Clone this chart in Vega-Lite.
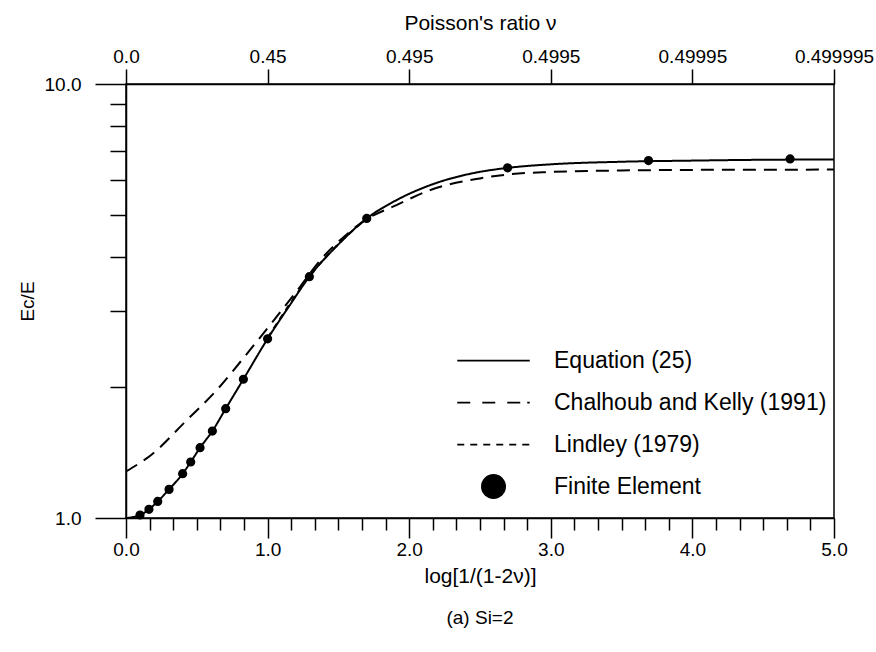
{
  "$schema": "https://vega.github.io/schema/vega-lite/v6.json",
  "width": 708,
  "height": 434,
  "autosize": "none",
  "padding": {"left": 126, "top": 84, "right": 42, "bottom": 134},
  "background": "white",
  "config": {
    "font": "Liberation Sans",
    "view": {"stroke": "black", "strokeWidth": 1.5},
    "axis": {
      "domainColor": "black", "tickColor": "black", "labelColor": "black", "titleColor": "black",
      "domainWidth": 1.5, "tickWidth": 1.5, "labelFontSize": 19, "titleFontSize": 21,
      "titleFontWeight": "normal", "grid": false, "labelFlush": false, "labelOverlap": false, "labelBound": false
    },
    "legend": {
      "title": null,
      "orient": "none",
      "legendX": 331,
      "legendY": 264,
      "padding": 0,
      "symbolSize": 625,
      "symbolOffset": 24,
      "symbolStrokeWidth": 0,
      "symbolFillColor": "black",
      "labelFontSize": 23,
      "labelColor": "black",
      "labelOffset": 48,
      "labelLimit": 400,
      "rowPadding": 17
    }
  },
  "title": {"text": "(a) Si=2", "orient": "bottom", "fontSize": 19, "fontWeight": "normal", "offset": 23, "color": "black"},
  "datasets": {
    "curves": [
      {"series": "Equation (25)", "x": 0, "y": 1.0},
      {"series": "Equation (25)", "x": 0.1, "y": 1.016},
      {"series": "Equation (25)", "x": 0.162, "y": 1.047},
      {"series": "Equation (25)", "x": 0.224, "y": 1.092},
      {"series": "Equation (25)", "x": 0.304, "y": 1.164},
      {"series": "Equation (25)", "x": 0.4, "y": 1.265},
      {"series": "Equation (25)", "x": 0.457, "y": 1.346},
      {"series": "Equation (25)", "x": 0.523, "y": 1.452},
      {"series": "Equation (25)", "x": 0.61, "y": 1.586},
      {"series": "Equation (25)", "x": 0.704, "y": 1.786},
      {"series": "Equation (25)", "x": 0.829, "y": 2.088},
      {"series": "Equation (25)", "x": 1.0, "y": 2.588},
      {"series": "Equation (25)", "x": 1.15, "y": 3.07},
      {"series": "Equation (25)", "x": 1.295, "y": 3.597},
      {"series": "Equation (25)", "x": 1.5, "y": 4.27},
      {"series": "Equation (25)", "x": 1.7, "y": 4.9},
      {"series": "Equation (25)", "x": 1.91, "y": 5.4},
      {"series": "Equation (25)", "x": 2.15, "y": 5.85},
      {"series": "Equation (25)", "x": 2.45, "y": 6.23},
      {"series": "Equation (25)", "x": 2.7, "y": 6.41},
      {"series": "Equation (25)", "x": 3.0, "y": 6.53},
      {"series": "Equation (25)", "x": 3.5, "y": 6.62},
      {"series": "Equation (25)", "x": 4.0, "y": 6.66},
      {"series": "Equation (25)", "x": 4.5, "y": 6.69},
      {"series": "Equation (25)", "x": 5.0, "y": 6.7},
      {"series": "Chalhoub and Kelly (1991)", "x": 0, "y": 1.28},
      {"series": "Chalhoub and Kelly (1991)", "x": 0.193, "y": 1.41},
      {"series": "Chalhoub and Kelly (1991)", "x": 0.405, "y": 1.65},
      {"series": "Chalhoub and Kelly (1991)", "x": 0.64, "y": 1.97},
      {"series": "Chalhoub and Kelly (1991)", "x": 0.876, "y": 2.44},
      {"series": "Chalhoub and Kelly (1991)", "x": 1.064, "y": 2.91},
      {"series": "Chalhoub and Kelly (1991)", "x": 1.229, "y": 3.41},
      {"series": "Chalhoub and Kelly (1991)", "x": 1.37, "y": 3.92},
      {"series": "Chalhoub and Kelly (1991)", "x": 1.5, "y": 4.33},
      {"series": "Chalhoub and Kelly (1991)", "x": 1.7, "y": 4.88},
      {"series": "Chalhoub and Kelly (1991)", "x": 1.91, "y": 5.26},
      {"series": "Chalhoub and Kelly (1991)", "x": 2.15, "y": 5.7},
      {"series": "Chalhoub and Kelly (1991)", "x": 2.5, "y": 6.06},
      {"series": "Chalhoub and Kelly (1991)", "x": 2.7, "y": 6.19},
      {"series": "Chalhoub and Kelly (1991)", "x": 3.0, "y": 6.27},
      {"series": "Chalhoub and Kelly (1991)", "x": 3.5, "y": 6.32},
      {"series": "Chalhoub and Kelly (1991)", "x": 4.0, "y": 6.34},
      {"series": "Chalhoub and Kelly (1991)", "x": 5.0, "y": 6.35},
      {"series": "Lindley (1979)", "x": 1.0, "y": 2.6},
      {"series": "Lindley (1979)", "x": 1.15, "y": 3.09},
      {"series": "Lindley (1979)", "x": 1.3, "y": 3.62},
      {"series": "Lindley (1979)", "x": 1.5, "y": 4.28},
      {"series": "Lindley (1979)", "x": 1.7, "y": 4.9}
    ],
    "fe": [
      {"series": "Finite Element", "x": 0.099, "y": 1.016},
      {"series": "Finite Element", "x": 0.162, "y": 1.047},
      {"series": "Finite Element", "x": 0.224, "y": 1.092},
      {"series": "Finite Element", "x": 0.304, "y": 1.164},
      {"series": "Finite Element", "x": 0.4, "y": 1.265},
      {"series": "Finite Element", "x": 0.457, "y": 1.346},
      {"series": "Finite Element", "x": 0.523, "y": 1.452},
      {"series": "Finite Element", "x": 0.61, "y": 1.586},
      {"series": "Finite Element", "x": 0.704, "y": 1.786},
      {"series": "Finite Element", "x": 0.829, "y": 2.088},
      {"series": "Finite Element", "x": 1.0, "y": 2.588},
      {"series": "Finite Element", "x": 1.295, "y": 3.597},
      {"series": "Finite Element", "x": 1.7, "y": 4.9},
      {"series": "Finite Element", "x": 2.695, "y": 6.41},
      {"series": "Finite Element", "x": 3.69, "y": 6.66},
      {"series": "Finite Element", "x": 4.69, "y": 6.72}
    ]
  },
  "layer": [
    {
      "data": {"name": "curves"},
      "mark": {"type": "line", "color": "black", "strokeWidth": 2, "interpolate": "monotone"},
      "encoding": {
        "x": {
          "field": "x", "type": "quantitative",
          "scale": {"domain": [0, 5], "nice": false, "zero": false},
          "axis": {
            "orient": "bottom",
            "title": "log[1/(1-2ν)]",
            "values": [0, 0.1666667, 0.3333333, 0.5, 0.6666667, 0.8333333, 1, 1.1666667, 1.3333333, 1.5, 1.6666667, 1.8333333, 2, 2.1666667, 2.3333333, 2.5, 2.6666667, 2.8333333, 3, 3.1666667, 3.3333333, 3.5, 3.6666667, 3.8333333, 4, 4.1666667, 4.3333333, 4.5, 4.6666667, 4.8333333, 5],
            "labelExpr": "abs(datum.value - round(datum.value)) < 0.01 ? format(datum.value, '.1f') : ''",
            "tickSize": {"condition": {"test": "abs(datum.value - round(datum.value)) < 0.01", "value": 20}, "value": 12},
            "labelPadding": 2,
            "titlePadding": 6
          }
        },
        "y": {
          "field": "y", "type": "quantitative",
          "scale": {"type": "log", "domain": [1, 10], "nice": false},
          "axis": {
            "title": "Ec/E",
            "titleFontSize": 19,
            "values": [1, 2, 3, 4, 5, 6, 7, 8, 9, 10],
            "labelExpr": "datum.value == 1 ? '1.0' : datum.value == 10 ? '10.0' : ''",
            "tickSize": {"condition": {"test": "datum.value == 1 || datum.value == 10", "value": 31}, "value": 16},
            "labelPadding": 14,
            "titlePadding": 7
          }
        },
        "strokeDash": {
          "field": "series", "type": "nominal",
          "scale": {
            "domain": ["Equation (25)", "Chalhoub and Kelly (1991)", "Lindley (1979)"],
            "range": [[1, 0], [13, 8], [6, 5]]
          },
          "legend": null
        }
      }
    },
    {
      "data": {"name": "fe"},
      "mark": {"type": "point", "filled": true, "fill": "black", "stroke": "black", "strokeWidth": 1.8, "size": 55, "opacity": 1},
      "encoding": {
        "x": {
          "field": "x", "type": "quantitative",
          "scale": {"domain": [0, 5], "nice": false, "zero": false},
          "axis": {
            "orient": "top",
            "title": "Poisson's ratio ν",
            "values": [0, 1, 2, 3, 4, 5],
            "labelExpr": "['0.0', '0.45', '0.495', '0.4995', '0.49995', '0.499995'][round(datum.value)]",
            "tickSize": 15,
            "labelPadding": 3,
            "titlePadding": 14
          }
        },
        "y": {
          "field": "y", "type": "quantitative",
          "scale": {"type": "log", "domain": [1, 10], "nice": false},
          "axis": null
        },
        "shape": {
          "field": "series", "type": "nominal",
          "scale": {
            "domain": ["Equation (25)", "Chalhoub and Kelly (1991)", "Lindley (1979)", "Finite Element"],
            "range": [
              "M-2.9,-0.07H2.9V0.07H-2.9Z",
              "M-2.9,-0.07H-1.86V0.07H-2.9ZM-0.9,-0.07H0.14V0.07H-0.9ZM1.1,-0.07H2.14V0.07H1.1ZM2.7,-0.07H2.9V0.07H2.7Z",
              "M-2.9,-0.07H-2.34V0.07H-2.9ZM-1.86,-0.07H-1.3V0.07H-1.86ZM-0.82,-0.07H-0.26V0.07H-0.82ZM0.22,-0.07H0.78V0.07H0.22ZM1.26,-0.07H1.82V0.07H1.26ZM2.3,-0.07H2.86V0.07H2.3Z",
              "circle"
            ]
          },
          "legend": {"title": null}
        }
      }
    }
  ],
  "resolve": {"axis": {"x": "independent", "y": "independent"}}
}
